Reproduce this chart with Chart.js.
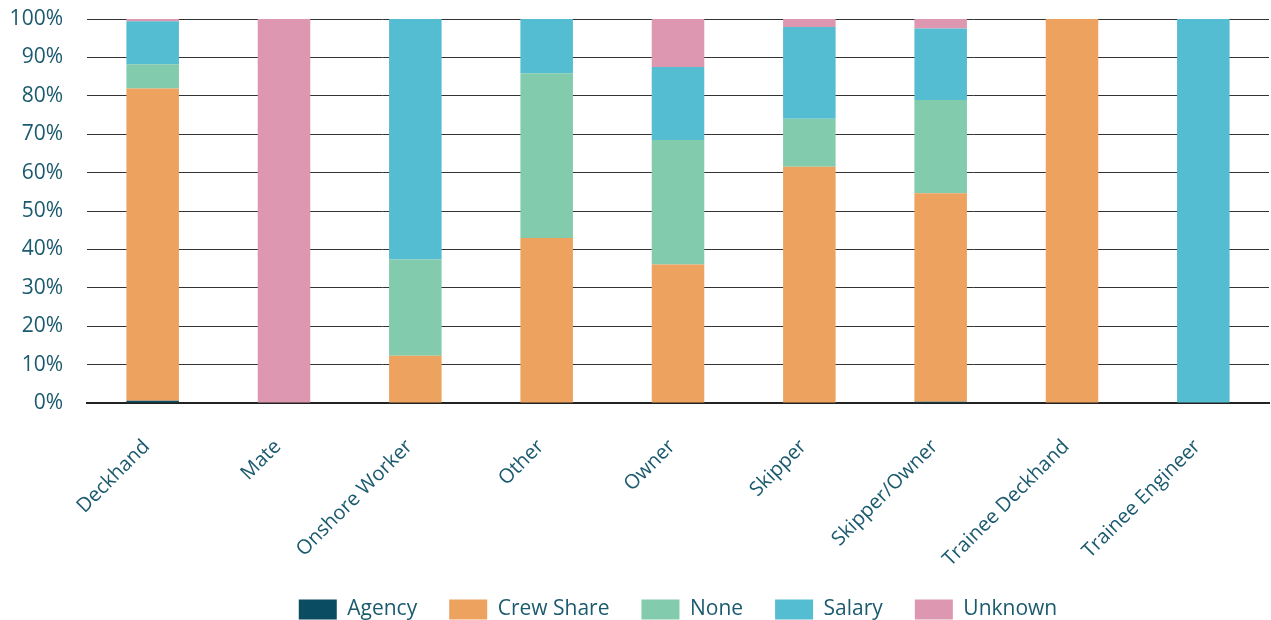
<!DOCTYPE html>
<html>
<head>
<meta charset="utf-8">
<script src="https://cdn.jsdelivr.net/npm/chart.js@4"></script>
<style>
  html, body { margin: 0; padding: 0; background: #fff; }
  #wrap { width: 1271px; height: 620px; }
</style>
</head>
<body>
<div id="wrap"><canvas id="payChart"></canvas></div>
<script>
const roles = ['Deckhand', 'Mate', 'Onshore Worker', 'Other', 'Owner', 'Skipper', 'Skipper/Owner', 'Trainee Deckhand', 'Trainee Engineer'];

// share of each payment type per role, in percent
const agency    = [0.6, 0,   0,    0,    0,    0,    0.3,  0,   0];
const crewShare = [81.3, 0,  12.3, 43.0, 36.1, 61.5, 54.3, 100, 0];
const none      = [6.3, 0,   25.1, 42.9, 32.4, 12.5, 24.3, 0,   0];
const salary    = [11.2, 0,  62.6, 14.1, 19.0, 23.9, 18.6, 0,   100];
const unknown   = [0.6, 100, 0,    0,    12.5, 2.1,  2.5,  0,   0];

const yTicks = [0, 10, 20, 30, 40, 50, 60, 70, 80, 90, 100];

const textColor = '#1b5a6e';
const font = 'Open Sans';

const series = [
    { label: 'Agency', data: agency, color: '#0a4d62' },
    { label: 'Crew Share', data: crewShare, color: '#eda35f' },
    { label: 'None', data: none, color: '#82cbad' },
    { label: 'Salary', data: salary, color: '#55bdd1' },
    { label: 'Unknown', data: unknown, color: '#dd97b1' }
];

new Chart(document.getElementById('payChart'), {
    type: 'bar',
    data: {
        labels: roles,
        datasets: series.map(s => ({
            label: s.label,
            data: s.data,
            backgroundColor: s.color,
            borderWidth: 0,
            barPercentage: 0.4,
            categoryPercentage: 1
        }))
    },
    options: {
        responsive: true,
        maintainAspectRatio: false,
        animation: false,
        layout: { padding: { top: 0, right: 2, left: 0, bottom: -10 } },
        plugins: {
            tooltip: { enabled: false },
            legend: {
                position: 'bottom',
                fullSize: false,
                labels: {
                    color: textColor,
                    font: { family: font, size: 21 },
                    boxWidth: 38,
                    boxHeight: 20,
                    padding: 32
                }
            }
        },
        scales: {
            x: {
                stacked: true,
                grid: { display: false },
                border: { color: '#222', width: 2 },
                ticks: {
                    color: textColor,
                    font: { family: font, size: 20 },
                    maxRotation: 45,
                    minRotation: 45,
                    padding: 24,
                    labelOffset: -6
                },
                afterFit: s => { s.height = 164; }
            },
            y: {
                stacked: true,
                min: 0,
                max: 100,
                afterBuildTicks: s => { s.ticks = yTicks.map(v => ({ value: v })); },
                grid: { color: '#333', lineWidth: 1, drawTicks: false },
                border: { display: false },
                ticks: {
                    color: textColor,
                    font: { family: font, size: 21 },
                    padding: 24,
                    callback: v => v + '%'
                },
                // fixed axis width; keep only room for the top label
                afterFit: s => {
                    s.width = 87;
                    s.paddingTop = 19;
                    s.paddingBottom = 12;
                }
            }
        }
    }
});
</script>
</body>
</html>
